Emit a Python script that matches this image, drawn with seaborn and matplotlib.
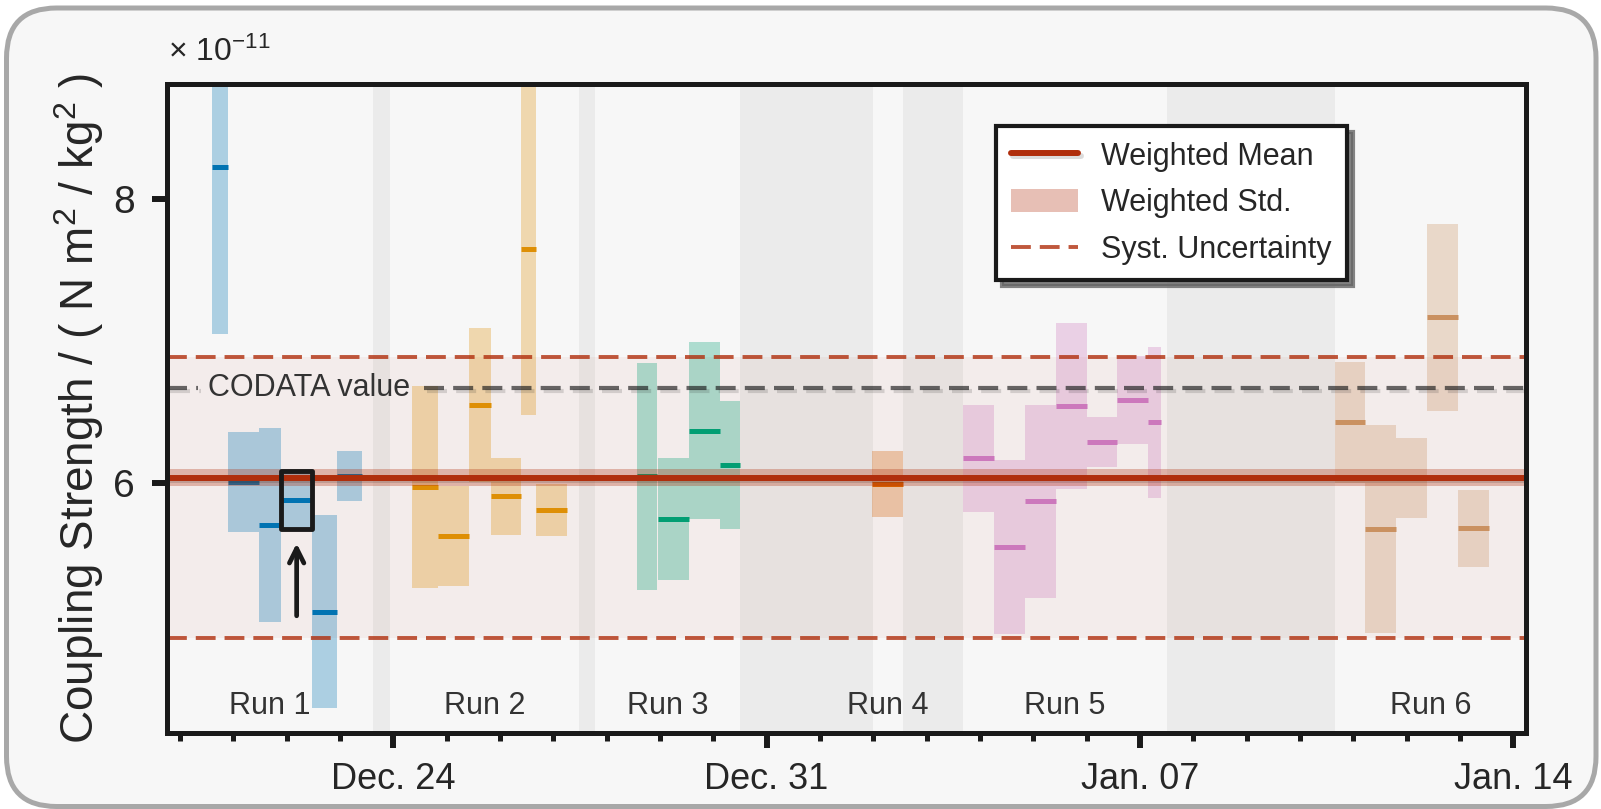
import matplotlib
matplotlib.use("Agg")
import numpy as np
import matplotlib.pyplot as plt
import matplotlib.patches as mpatches
import matplotlib.patheffects as pe
from matplotlib.lines import Line2D
from matplotlib.transforms import IdentityTransform
from matplotlib.ticker import FixedLocator, MultipleLocator, NullFormatter
import seaborn as sns

# Measurement windows, in days since Dec. 24 00:00, with G in units of 1e-11
run1_start = [-3.394, -3.094, -2.513, -2.106, -1.519, -1.063]
run1_end = [-3.094, -2.513, -2.106, -1.519, -1.063, -0.593]
run1_mean = [8.226, 6.007, 5.707, 5.882, 5.096, 6.053]
run1_err = [1.178, 0.352, 0.680, 0.204, 0.680, 0.175]

run2_start = [0.351, 0.839, 1.420, 1.826, 2.395, 2.676]
run2_end = [0.839, 1.420, 1.826, 2.395, 2.676, 3.257]
run2_mean = [5.975, 5.631, 6.551, 5.909, 7.646, 5.813]
run2_err = [0.709, 0.350, 0.540, 0.270, 1.164, 0.182]

run3_start = [4.570, 4.963, 5.545, 6.126]
run3_end = [4.945, 5.545, 6.126, 6.500]
run3_mean = [6.049, 5.750, 6.371, 6.130]
run3_err = [0.797, 0.428, 0.622, 0.449]

run4_start = [8.976]
run4_end = [9.557]
run4_mean = [5.996]
run4_err = [0.231]

run5_start = [10.68, 11.26, 11.84, 12.42, 13.00, 13.58, 14.15]
run5_end = [11.26, 11.84, 12.42, 13.00, 13.58, 14.15, 14.40]
run5_mean = [6.175, 5.553, 5.874, 6.544, 6.291, 6.587, 6.428]
run5_err = [0.376, 0.611, 0.678, 0.583, 0.175, 0.309, 0.530]

run6_start = [17.66, 18.23, 18.81, 19.38, 19.96]
run6_end = [18.23, 18.81, 19.38, 19.96, 20.54]
run6_mean = [6.429, 5.680, 6.039, 7.167, 5.684]
run6_err = [0.425, 0.731, 0.281, 0.656, 0.270]

run_labels = ["Run 1", "Run 2", "Run 3", "Run 4", "Run 5", "Run 6"]

# Interruptions between runs (days since Dec. 24)
gap_start = [-0.38, 3.48, 6.50, 9.557, 14.51]
gap_end = [-0.06, 3.78, 9.00, 10.677, 17.66]

weighted_mean = 6.04
weighted_std = 0.058
syst_upper = 6.89
syst_lower = 4.914
codata_value = 6.674

highlight_run, highlight_idx = 0, 3

x_limits = (-4.238, 21.245)
y_limits = (4.2455, 8.8076)
date_ticks = [0, 7, 14, 21]
date_labels = ["Dec. 24", "Dec. 31", "Jan. 07", "Jan. 14"]
y_ticks = [6, 8]

runs = [
    (run1_start, run1_end, run1_mean, run1_err),
    (run2_start, run2_end, run2_mean, run2_err),
    (run3_start, run3_end, run3_mean, run3_err),
    (run4_start, run4_end, run4_mean, run4_err),
    (run5_start, run5_end, run5_mean, run5_err),
    (run6_start, run6_end, run6_mean, run6_err),
]

sns.set_theme(style="ticks")
plt.rcParams["font.family"] = ["Liberation Sans", "DejaVu Sans"]
plt.rcParams["mathtext.fontset"] = "custom"
plt.rcParams["mathtext.rm"] = "Liberation Sans"
plt.rcParams["mathtext.it"] = "Liberation Sans:italic"
plt.rcParams["mathtext.bf"] = "Liberation Sans:bold"

palette = sns.color_palette("colorblind")
red = "#b02e0c"
bg = "#f7f7f7"

fig = plt.figure(figsize=(16.01, 8.09), dpi=100, facecolor="white")
frame = mpatches.FancyBboxPatch(
    (6.5, 2.5), 1589.5, 798.5,
    boxstyle="round,pad=0,rounding_size=50",
    transform=IdentityTransform(),
    facecolor=bg, edgecolor="#a8a8a8", linewidth=3.6, zorder=-10,
)
fig.add_artist(frame)

ax = fig.add_axes([0.1045, 0.0943, 0.8488, 0.8016])
ax.set_facecolor(bg)
ax.set_xlim(*x_limits)
ax.set_ylim(*y_limits)

# downtime between runs
for g0, g1 in zip(gap_start, gap_end):
    ax.axvspan(g0, g1, color="k", alpha=0.05, lw=0, zorder=0.5)

# systematic uncertainty band
ax.axhspan(syst_lower, syst_upper, color=red, alpha=0.05, lw=0, zorder=0.6)

# individual measurements
for k, (st, en, mu, er) in enumerate(runs):
    st, en, mu, er = map(np.asarray, (st, en, mu, er))
    c = palette[k]
    ax.bar(st, 2 * er, width=en - st, bottom=mu - er, align="edge",
           color=c, alpha=0.3, linewidth=0, zorder=2)
    ax.hlines(mu, st, en, colors=[c], lw=3.6, zorder=3)

# weighted mean and its spread
ax.axhspan(weighted_mean - weighted_std, weighted_mean + weighted_std,
           color=red, alpha=0.3, lw=0, zorder=4)
shadow_fx = [pe.SimpleLineShadow(offset=(1.5, -1.5), shadow_color="k", alpha=0.15), pe.Normal()]
ax.axhline(weighted_mean, color=red, lw=4.3, zorder=5, path_effects=shadow_fx)

syst_dashes = (5.1, 2.3)
for yv in (syst_upper, syst_lower):
    ax.axhline(yv, color=red, alpha=0.8, lw=2.8, dashes=syst_dashes, zorder=5)

# CODATA reference value with inline label
codata_txt = ax.text(-1.58, codata_value, "CODATA value", ha="center", va="center",
                     fontsize=22, color="#333333", zorder=7)
fig.canvas.draw()
bb = codata_txt.get_window_extent()
inv = ax.transData.inverted()
gap_l = inv.transform((bb.x0 - 10, bb.y0))[0]
gap_r = inv.transform((bb.x1 + 14, bb.y0))[0]
codata_fx = [pe.SimpleLineShadow(offset=(2.2, -2.2), shadow_color="k", alpha=0.15), pe.Normal()]
for xa, xb in ((x_limits[0], gap_l), (gap_r, x_limits[1])):
    ax.plot([xa, xb], [codata_value, codata_value], color="k", alpha=0.65, lw=3,
            dashes=(4.8, 2.2), zorder=6, path_effects=codata_fx, solid_capstyle="butt")

# highlighted measurement
hs, he, hm, hr = (runs[highlight_run][i][highlight_idx] for i in range(4))
ax.add_patch(mpatches.Rectangle((hs, hm - hr), he - hs, 2 * hr, fill=False,
                                edgecolor="#1a1a1a", lw=3.5, joinstyle="round", zorder=8))
xc = 0.5 * (hs + he)
tip = hm - hr - 0.1
ax.annotate("", xy=(xc, tip), xytext=(xc, tip - 0.51),
            arrowprops=dict(arrowstyle="->", lw=3.4, color="k", mutation_scale=26,
                            shrinkA=0, shrinkB=0), zorder=8)

# run labels centred in each run window
bounds = [x_limits[0]] + [v for pair in zip(gap_start, gap_end) for v in pair] + [x_limits[1]]
for i, lab in enumerate(run_labels):
    xm = 0.5 * (bounds[2 * i] + bounds[2 * i + 1])
    ax.text(xm, 0.0288, lab, transform=ax.get_xaxis_transform(), ha="center",
            va="baseline", fontsize=22, color="#333333", zorder=7)

# axes styling
ax.xaxis.set_major_locator(FixedLocator(date_ticks))
ax.set_xticklabels(date_labels)
ax.xaxis.set_minor_locator(MultipleLocator(1))
ax.xaxis.set_minor_formatter(NullFormatter())
ax.yaxis.set_major_locator(FixedLocator(y_ticks))
ax.set_yticklabels([str(v) for v in y_ticks])
ax.tick_params(axis="x", which="major", length=10.8, width=4.3, labelsize=26, pad=10, color="k")
ax.tick_params(axis="x", which="minor", length=5.8, width=3.6, color="k")
ax.tick_params(axis="y", which="major", length=10.5, width=4.3, labelsize=28, pad=13, color="k")
for s in ax.spines.values():
    s.set_visible(True)
    s.set_linewidth(3.6)
    s.set_color("k")
    s.set_zorder(9)

ax.set_ylabel("Coupling Strength / ( N m$^{2}$ / kg$^{2}$ )", fontsize=33, labelpad=5)
fig.text(168 / 1601, 1 - 61 / 809, "× 10$^{-11}$", ha="left", va="baseline", fontsize=23)

# legend
handles = [
    Line2D([], [], color=red, lw=4.3, path_effects=shadow_fx),
    mpatches.Patch(facecolor=red, alpha=0.3, linewidth=0),
    Line2D([], [], color=red, alpha=0.8, lw=2.8, dashes=syst_dashes),
]
labels = ["Weighted Mean", "Weighted Std.", "Syst. Uncertainty"]
leg = ax.legend(handles, labels, loc="upper left", bbox_to_anchor=(0.6098, 0.9351),
                borderaxespad=0, fontsize=22, frameon=True, fancybox=False,
                shadow={"ox": 4, "oy": -4, "color": "0.4", "alpha": 0.8},
                handlelength=2.2, handleheight=0.8, handletextpad=0.75,
                labelspacing=0.55, borderpad=0.5)
leg.get_frame().set_edgecolor("k")
leg.get_frame().set_linewidth(3)
leg.get_frame().set_facecolor("white")
leg.get_frame().set_alpha(1)
leg.set_zorder(20)

fig.savefig("out.png", dpi=100, facecolor=fig.get_facecolor())
